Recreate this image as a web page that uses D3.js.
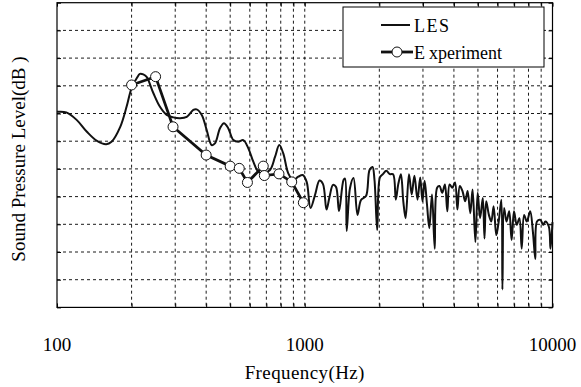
<!DOCTYPE html>
<html>
<head>
<meta charset="utf-8">
<script src="https://cdn.jsdelivr.net/npm/d3@7"></script>
<style>
  body { margin: 0; background: #fff; }
</style>
</head>
<body>
<svg id="chart" width="581" height="387"></svg>
<script>
// LES spectrum (Hz, dB)
const lesFreq = [100, 109, 120, 132, 145, 158, 166, 180, 191, 200, 210, 216, 223, 230, 245, 260, 277, 295, 314, 334,
  355, 366, 384, 402, 421, 434, 455, 472, 491, 515, 539, 565, 592, 620, 649, 680, 724, 759, 789, 819,
  858, 899, 942, 981, 1018, 1055, 1100, 1147, 1185, 1224, 1259, 1300, 1337, 1375, 1434, 1454, 1477, 1523, 1573, 1633,
  1687, 1767, 1826, 1877, 1912, 1961, 2011, 2068, 2134, 2203, 2273, 2331, 2384, 2444, 2499, 2553, 2635, 2702, 2771, 2852,
  2924, 2987, 3046, 3115, 3182, 3263, 3346, 3422, 3499, 3588, 3679, 3762, 3843, 3941, 4041, 4132, 4225, 4332, 4442, 4542,
  4658, 4758, 4884, 4989, 5102, 5232, 5315, 5400, 5537, 5662, 5785, 5932, 6066, 6219, 6278, 6377, 6521, 6687, 6838, 6993,
  7170, 7352, 7511, 7681, 7876, 8128, 8335, 8523, 8658, 8938, 9165, 9361, 9662, 9815, 10000];
const lesLevel = [70.6, 70.4, 67.7, 63.4, 60.1, 58.9, 59.8, 65.2, 72.5, 79.2, 82.8, 84.3, 84.1, 83.2, 77.3, 72.5, 69.5, 68.6, 68.3, 68.8,
  71.3, 71.5, 69.5, 64.0, 58.6, 59.2, 64.7, 66.5, 64.7, 60.4, 59.8, 60.4, 57.4, 52.6, 49.0, 48.4, 49.6, 54.4, 58.6, 55.6,
  48.4, 46.0, 47.2, 47.8, 45.3, 35.9, 40.6, 45.8, 44.5, 35.3, 39.9, 44.2, 43.5, 34.8, 46.0, 46.5, 27.6, 43.1, 46.7, 33.4,
  38.8, 40.2, 49.6, 50.7, 46.0, 27.9, 46.9, 48.1, 49.3, 48.1, 48.1, 38.9, 44.4, 48.1, 38.3, 32.2, 48.1, 40.8, 47.5, 38.9,
  46.9, 38.3, 45.7, 37.1, 28.6, 40.8, 21.2, 43.2, 43.8, 41.4, 44.4, 34.7, 44.4, 43.2, 45.1, 35.3, 43.8, 42.0, 38.3, 42.0,
  34.0, 42.6, 23.6, 41.4, 32.2, 39.5, 24.9, 38.3, 33.4, 31.0, 36.5, 26.1, 31.0, 38.9, 6.5, 35.9, 31.0, 34.7, 24.3, 34.7,
  29.8, 32.2, 21.2, 33.4, 31.0, 34.7, 27.3, 17.5, 31.0, 31.6, 29.8, 31.0, 29.2, 21.2, 30.8];

// Experiment (Hz, dB)
const expFreq = [200, 250, 294, 400, 500, 544, 587, 680, 687, 787, 886, 987];
const expLevel = [80.3, 83.3, 65.2, 55.0, 51.0, 50.2, 45.1, 51.0, 47.6, 48.2, 45.3, 37.8];

const xLabelValues = [100, 1000, 10000];
const seriesNames = ['LES', 'Experiment'];

const serif = '"Liberation Serif", "Times New Roman", Times, "DejaVu Serif", serif';

const svg = d3.select('#chart').attr('font-family', serif);
const margin = { left: 57, right: 28.5, top: 2.7, bottom: 79.6 };
const width = +svg.attr('width');
const height = +svg.attr('height');
const innerWidth = width - margin.left - margin.right;
const innerHeight = height - margin.top - margin.bottom;

const x = d3.scaleLog().domain([100, 10000]).range([0, innerWidth]);
const y = d3.scaleLinear().domain([0, 110]).range([innerHeight, 0]);

const g = svg.append('g').attr('transform', `translate(${margin.left},${margin.top})`);

// dashed grid
const xGrid = x.ticks().filter(d => d > 100 && d < 10000);
const yGrid = y.ticks(11).filter(d => d > 0 && d < 110);
g.append('g').selectAll('line').data(xGrid).join('line')
  .attr('x1', d => x(d)).attr('x2', d => x(d))
  .attr('y1', 0).attr('y2', innerHeight)
  .attr('stroke', '#000').attr('stroke-width', 0.9).attr('stroke-dasharray', '3,3');
g.append('g').selectAll('line').data(yGrid).join('line')
  .attr('x1', 0).attr('x2', innerWidth)
  .attr('y1', d => y(d)).attr('y2', d => y(d))
  .attr('stroke', '#000').attr('stroke-width', 0.9).attr('stroke-dasharray', '3,3');

// inward ticks on all four sides
const tickLen = 4;
const axes = [
  d3.axisBottom(x).tickSize(-tickLen).tickFormat(''),
  d3.axisTop(x).tickSize(-tickLen).tickFormat(''),
  d3.axisLeft(y).ticks(11).tickSize(-tickLen).tickFormat(''),
  d3.axisRight(y).ticks(11).tickSize(-tickLen).tickFormat('')
];
const shifts = [`translate(0,${innerHeight})`, 'translate(0,0)', 'translate(0,0)', `translate(${innerWidth},0)`];
axes.forEach((ax, i) => {
  const a = g.append('g').attr('transform', shifts[i]).call(ax);
  a.select('.domain').remove();
  a.selectAll('line').attr('stroke', '#000');
});

g.append('rect').attr('width', innerWidth).attr('height', innerHeight)
  .attr('fill', 'none').attr('stroke', '#000').attr('stroke-width', 1.2);

// x labels
g.append('g').selectAll('text').data(xLabelValues).join('text')
  .attr('x', d => x(d)).attr('y', innerHeight + 44)
  .attr('text-anchor', 'middle').attr('font-size', 19)
  .attr('font-family', serif).attr('fill', '#000')
  .text(d => d);

svg.append('text')
  .attr('x', margin.left + innerWidth / 2).attr('y', 379)
  .attr('text-anchor', 'middle').attr('font-size', 19).attr('letter-spacing', 0.4)
  .attr('font-family', serif).attr('fill', '#000')
  .text('Frequency(Hz)');

svg.append('text')
  .attr('transform', `translate(25,${margin.top + innerHeight / 2 + 4}) rotate(-90)`)
  .attr('text-anchor', 'middle').attr('font-size', 19)
  .attr('font-family', serif).attr('fill', '#000')
  .text('Sound Pressure Level(dB )');

// LES line
const lesData = lesFreq.map((f, i) => ({ f, v: lesLevel[i] }));
const expData = expFreq.map((f, i) => ({ f, v: expLevel[i] }));
const line = d3.line().x(d => x(d.f)).y(d => y(d.v)).curve(d3.curveCatmullRom.alpha(0.5));

g.append('path').datum(lesData)
  .attr('d', line)
  .attr('fill', 'none').attr('stroke', '#111').attr('stroke-width', 2).attr('stroke-linejoin', 'round');

g.append('path').datum(expData)
  .attr('d', d3.line().x(d => x(d.f)).y(d => y(d.v)))
  .attr('fill', 'none').attr('stroke', '#111').attr('stroke-width', 2.8);

g.append('g').selectAll('circle').data(expData).join('circle')
  .attr('cx', d => x(d.f)).attr('cy', d => y(d.v)).attr('r', 5)
  .attr('fill', '#fff').attr('stroke', '#111').attr('stroke-width', 1);

// legend
const legend = svg.append('g').attr('transform', 'translate(343,7)');
legend.append('rect').attr('width', 201).attr('height', 60)
  .attr('fill', '#fff').attr('stroke', '#000').attr('stroke-width', 1);
legend.append('line').attr('x1', 38).attr('x2', 67).attr('y1', 18).attr('y2', 18)
  .attr('stroke', '#111').attr('stroke-width', 2);
legend.append('text').attr('x', 71).attr('y', 25).attr('font-size', 18)
  .attr('font-family', serif).attr('letter-spacing', 1.5).text(seriesNames[0]);
legend.append('line').attr('x1', 38).attr('x2', 70).attr('y1', 45).attr('y2', 45)
  .attr('stroke', '#111').attr('stroke-width', 2.8);
legend.append('circle').attr('cx', 54).attr('cy', 45).attr('r', 5)
  .attr('fill', '#fff').attr('stroke', '#111').attr('stroke-width', 1);
const expLabel = legend.append('text').attr('x', 71).attr('y', 52).attr('font-size', 18)
  .attr('font-family', serif);
expLabel.append('tspan').text(seriesNames[1].slice(0, 1));
expLabel.append('tspan').attr('dx', 4).text(seriesNames[1].slice(1));
</script>
</body>
</html>
